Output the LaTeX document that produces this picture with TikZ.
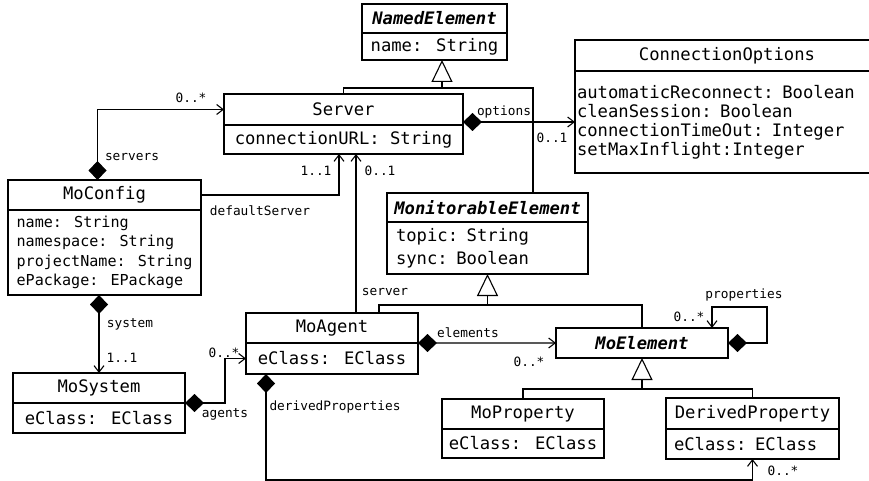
\documentclass[tikz,border=0pt]{standalone}
\usepackage{fontspec}
\setmainfont{DejaVu Sans Mono}[ItalicFont={DejaVu Sans Mono Oblique},BoldFont={DejaVu Sans Mono Bold},BoldItalicFont={DejaVu Sans Mono Bold Oblique}]
\usetikzlibrary{arrows.meta}
\tikzset{
  box/.style={draw, line width=1.2bp, inner sep=0pt, outer sep=0pt, anchor=north west, font=\fontsize{17.2bp}{19.5bp}\selectfont},
  italichd/.style={font=\fontsize{17.2bp}{19.5bp}\selectfont\bfseries\itshape},
  lbl/.style={inner sep=0pt, font=\fontsize{12.8bp}{14bp}\selectfont},
  conn/.style={line width=1.1bp},
  assoc/.style={conn, arrows={-Straight Barb[length=6.5bp,width=10bp]}},
  compo/.style={conn, arrows={Diamond[length=19bp,width=18bp]-Straight Barb[length=6.5bp,width=10bp]}},
  gen/.style={conn, arrows={-Triangle[open,length=22bp,width=21bp]}}
}
\begin{document}
\begin{tikzpicture}[x=1bp,y=-1bp]
\useasboundingbox (0,0) rectangle (869,481);

% classes
\node[box, italichd, minimum width=145bp, minimum height=29bp] (named) at (362,4) {NamedElement};
\node[box, minimum width=145bp, minimum height=27bp] (namedB) at (362,33) {name: String};

\node[box, minimum width=239bp, minimum height=31bp] (server) at (224,94) {Server};
\node[box, minimum width=239bp, minimum height=29bp] (serverB) at (224,125) {connectionURL: String};

\node[box, minimum width=304bp, minimum height=31bp] (copt) at (575,40) {ConnectionOptions};
\node[box, minimum width=304bp, minimum height=102bp, text width=300bp, align=left, font=\fontsize{17.2bp}{19bp}\selectfont] (coptB) at (575,71) {automaticReconnect: Boolean\\cleanSession: Boolean\\connectionTimeOut: Integer\\setMaxInflight:Integer};

\node[box, minimum width=193bp, minimum height=30bp] (moconfig) at (8,180) {MoConfig};
\node[box, minimum width=193bp, minimum height=85bp, align=left, font=\fontsize{15.1bp}{19.4bp}\selectfont] (moconfigB) at (8,210) {name: String\\namespace: String\\projectName: String\\ePackage: EPackage};

\node[box, italichd, minimum width=201bp, minimum height=29bp] (monit) at (387,193) {MonitorableElement};
\node[box, minimum width=201bp, minimum height=52bp, text width=183bp, align=left, font=\fontsize{17.2bp}{22.7bp}\selectfont] (monitB) at (387,222) {topic: String\\sync: Boolean};

\node[box, minimum width=172bp, minimum height=30bp] (moagent) at (246,313) {MoAgent};
\node[box, minimum width=172bp, minimum height=31bp] (moagentB) at (246,343) {eClass: EClass};

\node[box, italichd, minimum width=172bp, minimum height=30bp] (moelement) at (556,328) {MoElement};

\node[box, minimum width=172bp, minimum height=30bp] (mosystem) at (13,373) {MoSystem};
\node[box, minimum width=172bp, minimum height=30bp] (mosystemB) at (13,403) {eClass: EClass};

\node[box, minimum width=162bp, minimum height=30bp] (moprop) at (442,399) {MoProperty};
\node[box, minimum width=162bp, minimum height=29bp] (mopropB) at (442,429) {eClass: EClass};

\node[box, minimum width=173bp, minimum height=31bp] (derived) at (666,398) {DerivedProperty};
\node[box, minimum width=173bp, minimum height=30bp, text width=157bp, align=left] (derivedB) at (666,429) {eClass: EClass};

% generalizations
\coordinate (g1) at ([xshift=7.5bp,yshift=-28bp]namedB.south);
\coordinate (monitTop) at ([xshift=45.5bp]monit.north);
\draw[gen] (g1) -- (g1 |- namedB.south);
\draw[conn] (server.north) |- (g1) -| (monitTop);

\coordinate (g2) at ([yshift=-31bp]monitB.south);
\coordinate (agentTop) at ([xshift=47bp]moagent.north);
\draw[gen] (g2) -- (monitB.south);
\draw[conn] (agentTop) |- (g2) -| (moelement.north);

\coordinate (g3) at ([yshift=-31bp]moelement.south);
\draw[gen] (g3) -- (moelement.south);
\draw[conn] (moprop.north) |- (g3) -| (derived.north);

% associations
\coordinate (srvS) at ([xshift=-7bp]moconfig.north);
\draw[compo] (srvS) |- (server.west);

\coordinate (dsE) at ([xshift=-4.5bp]serverB.south);
\draw[assoc] (moconfig.east) -| (dsE);

\coordinate (svS) at ([xshift=24bp]moagent.north);
\draw[assoc] (svS) -- (svS |- serverB.south);

\coordinate (optS) at ([yshift=3bp]serverB.north east);
\draw[compo] (optS) -- (optS -| copt.west);

\draw[compo] (mosystem.north |- moconfigB.south) -- (mosystem.north);

\coordinate (agS) at (mosystem.south east);
\draw[compo] (agS) -- ([xshift=40bp]agS) |- (moagentB.west);

\draw[compo] (moagent.south east) -- (moelement.west);

\coordinate (dpS) at ([xshift=-66bp]moagentB.south);
\draw[compo] (dpS) -- ++(0,106) -| (derivedB.south);

\coordinate (prE) at ([xshift=70bp]moelement.north);
\draw[compo] (moelement.east) -- ++(39,0) -- ++(0,-36) -| (prE);

% labels
\node[lbl] (lserversm) at (191,98) {0..*};
\node[lbl] (lservers) at (132,157) {servers};
\node[lbl] (ldsm) at (316,171) {1..1};
\node[lbl] (lds) at (260,211) {defaultServer};
\node[lbl] (lsvm) at (380,171) {0..1};
\node[lbl] (lsv) at (385,292) {server};
\node[lbl] (lopt) at (504,112) {options};
\node[lbl] (loptm) at (552,138) {0..1};
\node[lbl] (lsys) at (130,324) {system};
\node[lbl] (lsysm) at (122,358) {1..1};
\node[lbl] (lag) at (225,414) {agents};
\node[lbl] (lagm) at (224,353) {0..*};
\node[lbl] (lel) at (468,333) {elements};
\node[lbl] (lelm) at (529,362) {0..*};
\node[lbl] (lpr) at (744,295) {properties};
\node[lbl] (lprm) at (689,317) {0..*};
\node[lbl] (ldp) at (335,407) {derivedProperties};
\node[lbl] (ldpm) at (783,471) {0..*};
\end{tikzpicture}
\end{document}
